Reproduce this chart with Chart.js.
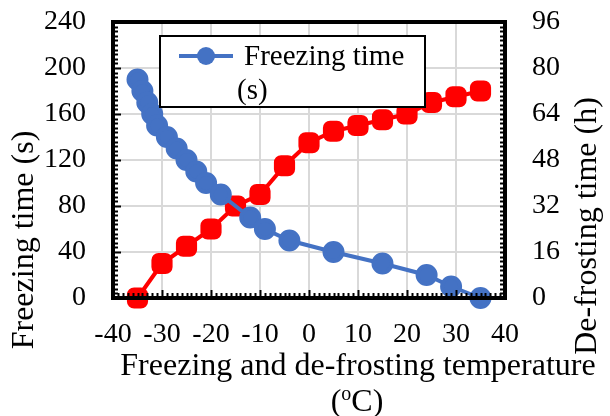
<!DOCTYPE html>
<html>
<head>
<meta charset="utf-8">
<script src="https://cdn.jsdelivr.net/npm/chart.js@4.4.1/dist/chart.umd.min.js"></script>
<style>
  html, body { margin: 0; padding: 0; background: #fff; }
  #wrap { width: 610px; height: 416px; }
</style>
</head>
<body>
<div id="wrap"><canvas id="chart"></canvas></div>
<script>
// freezing time (s), left axis
var freezeTemp = [-35, -34, -33, -32, -31, -29, -27, -25, -23, -21, -18, -12, -9, -4, 5, 15, 24, 29, 35];
var freezeTime = [190, 180, 170, 160, 150, 140, 130, 120, 110, 100, 90, 70, 60, 50, 40, 30, 20, 10, 0];
// de-frosting time (h), right axis
var defrostTemp = [-35, -30, -25, -20, -15, -10, -5, 0, 5, 10, 15, 20, 25, 30, 35];
var defrostTime = [0, 12, 18, 24, 32, 36, 46, 54, 58, 60, 62, 64, 68, 70, 72];

var xTicks = [-40, -30, -20, -10, 0, 10, 20, 30, 40];
var leftTicks = [0, 40, 80, 120, 160, 200, 240];
var rightTicks = [0, 16, 32, 48, 64, 80, 96];

var legendLines = ["Freezing time", "(s)"];
var xTitle = ["Freezing and de-frosting temperature", "(", "o", "C)"];
var leftTitle = "Freezing time (s)";
var rightTitle = "De-frosting time (h)";

var FONT = "'Liberation Serif', 'Times New Roman', serif";
var BLUE = "#4472C4";
var RED = "#FF0000";

function toXY(xs, ys) {
  return xs.map(function (x, i) { return { x: x, y: ys[i] }; });
}

// fixed axis sizes so the plot box lands where the original has it
function fixY(w) {
  return function (s) {
    s.width = w;
    s.paddingTop = 0;
    s.paddingBottom = 0;
  };
}

// frame, minor ticks, titles and legend
var decorPlugin = {
  id: "decor",
  afterDraw: function (chart) {
    var ctx = chart.ctx;
    var a = chart.chartArea;
    var sx = chart.scales.x, sy = chart.scales.y, sy1 = chart.scales.y1;
    ctx.save();
    ctx.strokeStyle = "#000";
    ctx.lineWidth = 2;
    var v;
    for (v = -40; v <= 40; v += 1) {
      var px = Math.round(sx.getPixelForValue(v)) + 0.5;
      ctx.beginPath();
      ctx.moveTo(px, a.bottom);
      ctx.lineTo(px, a.bottom - (v % 10 === 0 ? 8 : 5));
      ctx.stroke();
    }
    for (v = 0; v <= 240; v += 4) {
      var py = Math.round(sy.getPixelForValue(v)) + 0.5;
      ctx.beginPath();
      ctx.moveTo(a.left, py);
      ctx.lineTo(a.left + (v % 40 === 0 ? 8 : 5), py);
      ctx.stroke();
    }
    for (v = 0; v <= 96.01; v += 1.6) {
      var py1 = Math.round(sy1.getPixelForValue(v)) + 0.5;
      ctx.beginPath();
      ctx.moveTo(a.right, py1);
      ctx.lineTo(a.right - 5, py1);
      ctx.stroke();
    }
    ctx.lineWidth = 4;
    ctx.strokeRect(a.left, a.top, a.right - a.left, a.bottom - a.top);

    // axis titles
    ctx.fillStyle = "#000";
    ctx.textBaseline = "middle";
    ctx.textAlign = "center";
    ctx.font = "32px " + FONT;
    ctx.fillText(xTitle[0], 358, 367);
    var w1 = ctx.measureText(xTitle[1]).width;
    ctx.font = "20px " + FONT;
    var w2 = ctx.measureText(xTitle[2]).width;
    ctx.font = "32px " + FONT;
    var w3 = ctx.measureText(xTitle[3]).width;
    var sx0 = 357 - (w1 + w2 + w3) / 2;
    ctx.textAlign = "left";
    ctx.fillText(xTitle[1], sx0, 403);
    ctx.font = "20px " + FONT;
    ctx.fillText(xTitle[2], sx0 + w1, 395);
    ctx.font = "32px " + FONT;
    ctx.fillText(xTitle[3], sx0 + w1 + w2, 403);

    ctx.textAlign = "center";
    ctx.save();
    ctx.translate(25, 240);
    ctx.rotate(-Math.PI / 2);
    ctx.fillText(leftTitle, 0, 0);
    ctx.restore();
    ctx.save();
    ctx.translate(588, 226);
    ctx.rotate(-Math.PI / 2);
    ctx.fillText(rightTitle, 0, 0);
    ctx.restore();

    // legend box
    ctx.fillStyle = "#fff";
    ctx.fillRect(160, 36, 265, 71);
    ctx.lineWidth = 2;
    ctx.strokeStyle = "#000";
    ctx.strokeRect(160, 36, 265, 71);
    ctx.strokeStyle = BLUE;
    ctx.lineWidth = 4;
    ctx.beginPath();
    ctx.moveTo(179, 56);
    ctx.lineTo(233, 56);
    ctx.stroke();
    ctx.fillStyle = BLUE;
    ctx.beginPath();
    ctx.arc(206, 56, 9, 0, Math.PI * 2);
    ctx.fill();
    ctx.fillStyle = "#000";
    ctx.font = "29px " + FONT;
    ctx.textAlign = "left";
    ctx.fillText(legendLines[0], 244, 57);
    ctx.fillText(legendLines[1], 237, 91);
    ctx.restore();
  }
};

new Chart(document.getElementById("chart"), {
  type: "line",
  data: {
    datasets: [
      {
        label: legendLines.join(" "),
        data: toXY(freezeTemp, freezeTime),
        yAxisID: "y",
        borderColor: BLUE,
        backgroundColor: BLUE,
        borderWidth: 4,
        pointRadius: 9,
        pointHoverRadius: 9,
        pointStyle: "circle",
        tension: 0,
        clip: false
      },
      {
        label: "De-frosting time (h)",
        data: toXY(defrostTemp, defrostTime),
        yAxisID: "y1",
        borderColor: RED,
        backgroundColor: RED,
        borderWidth: 4,
        pointRadius: 10,
        pointHoverRadius: 10,
        pointStyle: "rectRounded",
        tension: 0,
        clip: false
      }
    ]
  },
  options: {
    responsive: true,
    maintainAspectRatio: false,
    animation: false,
    layout: { padding: { top: 22, left: 0, right: 0, bottom: 0 } },
    plugins: {
      legend: { display: false },
      tooltip: { enabled: false }
    },
    scales: {
      x: {
        type: "linear",
        min: -40,
        max: 40,
        afterBuildTicks: function (s) { s.ticks = xTicks.map(function (v) { return { value: v }; }); },
        afterFit: function (s) { s.height = 118; },
        grid: { color: "#d9d9d9", lineWidth: 2, drawTicks: false },
        border: { display: false },
        ticks: { color: "#000", font: { family: FONT, size: 28 }, padding: 20, maxRotation: 0 }
      },
      y: {
        position: "left",
        min: 0,
        max: 240,
        afterBuildTicks: function (s) { s.ticks = leftTicks.map(function (v) { return { value: v }; }); },
        afterFit: fixY(113),
        grid: { color: "#d9d9d9", lineWidth: 2, drawTicks: false },
        border: { display: false },
        ticks: { color: "#000", font: { family: FONT, size: 28 }, padding: 27 }
      },
      y1: {
        position: "right",
        min: 0,
        max: 96,
        afterBuildTicks: function (s) { s.ticks = rightTicks.map(function (v) { return { value: v }; }); },
        afterFit: fixY(105),
        grid: { display: false, drawTicks: false },
        border: { display: false },
        ticks: { color: "#000", font: { family: FONT, size: 28 }, padding: 27 }
      }
    }
  },
  plugins: [decorPlugin]
});
</script>
</body>
</html>
